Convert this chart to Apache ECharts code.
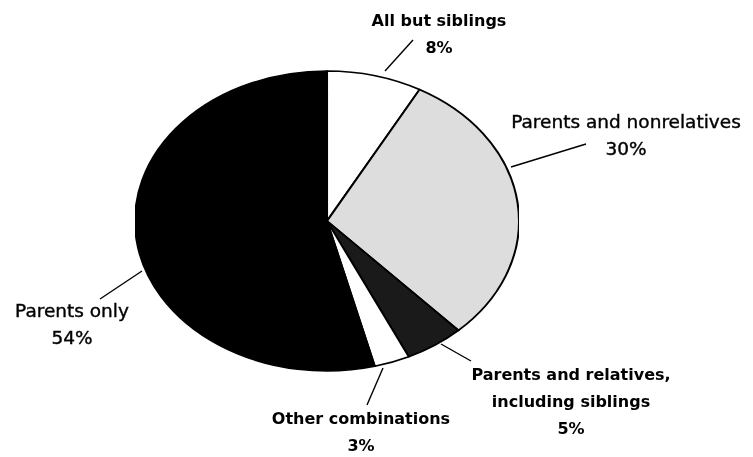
<!DOCTYPE html>
<html>
<head>
<meta charset="utf-8">
<script src="https://cdn.jsdelivr.net/npm/echarts/dist/echarts.min.js"></script>
<style>
  html, body { margin: 0; padding: 0; background: #fff; }
  #wrap { position: relative; width: 753px; height: 457px; overflow: hidden; }
  /* the circular pie is stretched horizontally into an ellipse */
  #pie { position: absolute; left: 177px; top: 0; width: 300px; height: 457px;
         transform: scaleX(1.28); transform-origin: 150px 221px; }
  #labels { position: absolute; left: 0; top: 0; width: 753px; height: 457px; }
</style>
</head>
<body>
<div id="wrap"><div id="pie"></div><div id="labels"></div></div>
<script>
// Living arrangements, share of total (clockwise from 12 o'clock)
const categories = [
  'All but siblings',
  'Parents and nonrelatives',
  'Parents and relatives,\nincluding siblings',
  'Other combinations',
  'Parents only'
];
const shares = [8, 30, 5, 3, 54];
const sliceColors = ['#ffffff', '#dddddd', '#1a1a1a', '#ffffff', '#000000'];
const labelBold = [true, false, true, true, false];

// label layout: text block centre and leader line end points
const labelLayout = [
  { x: 439, y: 35,  line: [[385, 71], [413, 40]] },
  { x: 626, y: 137, line: [[511, 167], [586, 144]] },
  { x: 571, y: 403, line: [[441, 344], [471, 361]] },
  { x: 361, y: 433, line: [[383, 368], [367, 405]] },
  { x: 72,  y: 326, line: [[142, 271], [100, 299]] }
];

const pieChart = echarts.init(document.getElementById('pie'), null, { renderer: 'svg' });
pieChart.setOption({
  animation: false,
  series: [{
    type: 'pie',
    center: [150, 221],
    radius: [0, 150],
    startAngle: 90,
    clockwise: true,
    label: { show: false },
    labelLine: { show: false },
    emphasis: { disabled: true },
    itemStyle: { borderColor: '#000', borderWidth: 1.6 },
    data: categories.map((name, i) => ({
      name: name, value: shares[i], itemStyle: { color: sliceColors[i] }
    }))
  }]
});

const labelChart = echarts.init(document.getElementById('labels'), null, { renderer: 'canvas' });
const elements = [];
categories.forEach((name, i) => {
  const L = labelLayout[i];
  elements.push({
    type: 'line',
    shape: { x1: L.line[0][0], y1: L.line[0][1], x2: L.line[1][0], y2: L.line[1][1] },
    style: { stroke: '#000', lineWidth: 1.4 }
  });
  elements.push({
    type: 'text',
    x: L.x, y: L.y,
    style: {
      text: name + '\n' + shares[i] + '%',
      fontFamily: 'DejaVu Sans, sans-serif',
      fontSize: labelBold[i] ? 16 : 18.5,
      fontWeight: labelBold[i] ? 'bold' : 'normal',
      lineHeight: 27,
      align: 'center',
      verticalAlign: 'middle',
      fill: '#000',
      stroke: labelBold[i] ? null : '#000',
      lineWidth: labelBold[i] ? 0 : 0.4
    }
  });
});
labelChart.setOption({ animation: false, graphic: { elements: elements } });
</script>
</body>
</html>
